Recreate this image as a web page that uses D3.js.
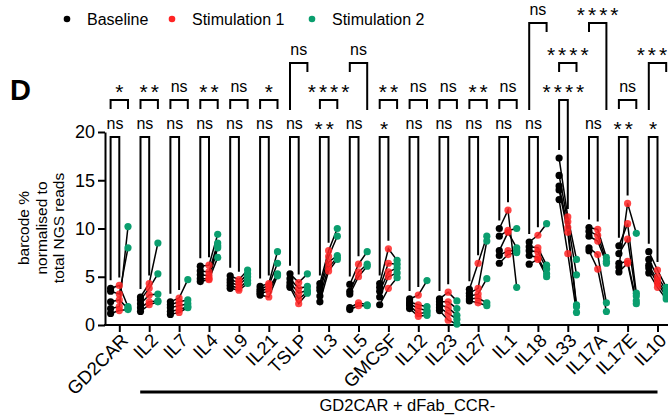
<!DOCTYPE html>
<meta charset="utf-8">
<html>
  <head>
    <title>barcode reads</title>
    <style>
      body { margin: 0; background: #fff; }
      text { font-family: "Liberation Sans", Arial, sans-serif; fill: #000; }
    </style>
  </head>
  <body>
  <script src="https://cdn.jsdelivr.net/npm/d3@7"></script>
  <script>

  // categories on the x axis
  var categories = ["GD2CAR","IL2","IL7","IL4","IL9","IL21","TSLP","IL3","IL5","GMCSF",
                    "IL12","IL23","IL27","IL1","IL18","IL33","IL17A","IL17E","IL10"];
  var groups = ["Baseline", "Stimulation 1", "Stimulation 2"];
  var groupColors = ["#000000", "#ff2424", "#0a9e6e"];

  // one row per category, one value per donor (same donor index across groups)
  var baseline = [
    [3.8,3.5,2.4,1.7,1.2], [2.9,2.6,2.2,1.8,1.4], [2.4,2.1,1.8,1.4,1.1], [6.1,5.6,5.2,4.8,4.5],
    [5.1,4.7,4.4,4.1,3.8], [4.0,3.7,3.5,3.3,3.1], [5.3,4.8,4.4,4.1,3.9], [4.3,3.9,3.6,3.0,2.4],
    [4.2,3.5,3.2,1.8,1.6], [4.3,3.9,3.5,2.9,2.1], [2.7,2.4,2.2,2.0,1.7], [2.7,2.4,2.1,1.8,1.5],
    [3.7,3.3,3.0,2.7,2.5], [10.0,9.2,7.7,7.2,6.4], [8.6,8.1,7.7,7.2,6.3], [17.3,15.5,14.4,14.0,13.0],
    [10.1,9.7,9.2,8.0,7.7], [8.2,7.4,6.4,6.0,5.5], [7.6,6.8,6.2,5.9,5.4]
  ];
  var stim1 = [
    [4.1,3.2,2.6,1.9,1.5], [4.3,3.8,3.1,2.4,2.1], [2.8,2.4,2.0,1.6,1.3], [6.2,5.5,5.1,4.8,4.7],
    [4.7,4.4,4.1,3.8,3.6], [4.3,4.1,3.8,3.5,2.9], [4.4,3.8,3.3,2.7,2.2], [7.7,7.1,6.5,6.0,5.6],
    [6.3,5.5,5.0,2.3,2.0], [7.9,6.4,5.5,5.0,3.8], [3.1,2.1,1.7,1.2,0.9], [3.4,2.4,1.8,1.2,0.5],
    [6.4,3.8,3.2,2.8,2.3], [11.9,9.8,9.6,7.7,7.3], [9.3,8.0,7.6,7.0,6.8], [11.2,10.7,10.1,9.6,7.4],
    [9.9,9.3,8.7,7.3,5.8], [10.5,8.9,6.6,12.6,6.4], [5.7,5.0,4.6,4.3,3.9]
  ];
  var stim2 = [
    [1.9,8.0,1.7,10.2,1.6], [8.5,5.3,3.2,2.5,2.4], [4.7,2.6,2.2,1.9,1.8], [9.4,8.5,8.2,8.0,7.0],
    [5.7,5.3,5.0,4.6,4.3], [7.6,6.4,5.3,5.2,5.1], [5.3,4.0,3.6,3.4,3.3], [10.0,9.2,7.2,7.0,6.8],
    [7.6,6.3,6.1,2.1,2.0], [6.7,6.3,5.9,5.4,4.9], [4.6,1.9,1.5,1.3,1.0], [2.5,1.7,1.0,0.6,0.1],
    [9.2,8.7,4.8,2.3,2.0], [3.9,10.0,8.0,7.7,7.5], [10.5,6.2,5.8,5.3,5.0], [6.8,5.2,2.1,1.9,1.3],
    [7.0,6.6,6.4,2.3,1.4], [3.3,3.0,2.5,9.5,2.2], [3.9,3.6,3.3,3.0,2.7]
  ];

  // significance: baseline vs stimulation 1, baseline vs stimulation 2
  var sig1 = ["ns","ns","ns","ns","ns","ns","ns","**","ns","*","ns","ns","ns","ns","ns","****","ns","**","*"];
  var sig1Level = [0,0,0,0,0,0,0,0,0,0,0,0,0,0,0,1,0,0,0];
  var sig2 = ["*","**","ns","**","ns","*","ns","****","ns","**","ns","ns","**","ns","ns","****","****","ns","****"];
  var sig2Level = [1,1,1,1,1,1,2,1,2,1,1,1,1,1,3,2,3,1,2];
  var sig2Long = ["","","","","","","L","","R","","","","","","L","","R","","L"];

  var yTicks = [0, 5, 10, 15, 20];

  var width = 668, height = 416;
  var svg = d3.select("body").append("svg")
      .attr("width", width)
      .attr("height", height);

  var y = d3.scaleLinear().domain([0, 20]).range([325, 132]);
  var x = d3.scalePoint().domain(categories).range([119.3, 657.5]);
  var off = d3.scalePoint().domain(groups).range([-8.7, 8.7]);

  var levelTop = [137, 100, 63, 23];

  // panel letter
  svg.append("text").attr("x", 10).attr("y", 100)
      .style("font-size", "29px").style("font-weight", "bold").text("D");

  // legend
  var leg = svg.append("g").selectAll("g").data(groups).enter().append("g");
  var legX = [67, 172, 312];
  leg.append("circle").attr("cx", function(d, i){ return legX[i]; }).attr("cy", 19).attr("r", 3.3)
      .style("fill", function(d, i){ return groupColors[i]; });
  leg.append("text").attr("x", function(d, i){ return legX[i] + 20; }).attr("y", 25)
      .style("font-size", "16px").text(function(d){ return d; });

  // y axis
  var yAxis = svg.append("g").attr("transform", "translate(105,0)")
      .call(d3.axisLeft(y).tickValues(yTicks).tickSize(7).tickSizeOuter(0).tickPadding(3));
  yAxis.selectAll("path, line").style("stroke", "#000").style("stroke-width", 2);
  yAxis.selectAll("text").style("font-size", "18px").style("font-family", "Liberation Sans, Arial, sans-serif");

  // x axis
  var xAxis = svg.append("g").attr("transform", "translate(0,325)")
      .call(d3.axisBottom(x).tickSize(7).tickSizeOuter(0));
  xAxis.select(".domain").remove();
  xAxis.append("line").attr("x1", 104).attr("x2", width).attr("y1", 0).attr("y2", 0)
      .style("stroke", "#000").style("stroke-width", 2);
  xAxis.selectAll("line").style("stroke", "#000").style("stroke-width", 2);
  xAxis.selectAll(".tick text")
      .attr("transform", "rotate(-45)")
      .attr("text-anchor", "end")
      .attr("x", -5).attr("y", 12).attr("dy", "0.35em")
      .style("font-size", "18.5px").style("font-family", "Liberation Sans, Arial, sans-serif");

  // y label
  var ylab = ["barcode %", "normalised to", "total NGS reads"];
  svg.append("g").selectAll("text").data(ylab).enter().append("text")
      .attr("transform", function(d, i){ return "translate(" + (29 + i * 17.5) + ",228) rotate(-90)"; })
      .attr("text-anchor", "middle")
      .style("font-size", "15.5px")
      .text(function(d){ return d; });

  // group bar under axis
  svg.append("line").attr("x1", x("IL2") - 9).attr("x2", x("IL10")).attr("y1", 392).attr("y2", 392)
      .style("stroke", "#000").style("stroke-width", 3);
  svg.append("text").attr("x", (x("IL2") + x("IL10")) / 2 + 4).attr("y", 411)
      .attr("text-anchor", "middle").style("font-size", "16.5px").text("GD2CAR + dFab_CCR-");

  // paired lines and points
  var series = [baseline, stim1, stim2];
  var plot = svg.append("g");
  categories.forEach(function(c, i){
    var donors = d3.range(baseline[i].length).map(function(j){
      return groups.map(function(g, k){ return [x(c) + off(g), y(series[k][i][j])]; });
    });
    plot.selectAll(null).data(donors).enter().append("path")
        .attr("d", d3.line())
        .style("fill", "none").style("stroke", "#000").style("stroke-width", 1.5);
  });
  groups.forEach(function(g, k){
    categories.forEach(function(c, i){
      plot.selectAll(null).data(series[k][i]).enter().append("circle")
          .attr("cx", x(c) + off(g))
          .attr("cy", function(d){ return y(d); })
          .attr("r", 3.6)
          .style("fill", groupColors[k])
          .style("fill-opacity", k == 1 ? 0.85 : 1);
    });
  });

  // significance brackets
  var br = svg.append("g").style("fill", "none").style("stroke", "#000").style("stroke-width", 2);
  var lab = svg.append("g");

  function sigText(s, cx, base){
    var t = lab.append("text").attr("x", cx).attr("text-anchor", "middle").text(s);
    if (s == "ns") t.attr("y", base).style("font-size", "16px");
    else t.attr("y", base + 7).attr("dx", "1.5px").style("font-size", "21px").style("letter-spacing", "3px");
  }

  categories.forEach(function(c, i){
    // baseline vs stim 1
    var x1 = x(c) + off(groups[0]), x2 = x(c) + off(groups[1]);
    var top = levelTop[sig1Level[i]];
    var e1 = y(d3.max(baseline[i])) - 8, e2 = y(d3.max(stim1[i])) - 8;
    br.append("path").attr("d", "M" + x1 + "," + e1 + "V" + top + "H" + x2 + "V" + e2);
    sigText(sig1[i], (x1 + x2) / 2, top - 8);

    // baseline vs stim 2
    var x3 = x(c) + off(groups[2]);
    var t2 = levelTop[sig2Level[i]];
    var longEnd = levelTop[1] + 10, shortEnd = t2 + 9;
    var l1 = sig2Long[i] == "L" ? longEnd : shortEnd;
    var l2 = sig2Long[i] == "R" ? longEnd : shortEnd;
    br.append("path").attr("d", "M" + x1 + "," + l1 + "V" + t2 + "H" + x3 + "V" + l2);
    sigText(sig2[i], (x1 + x3) / 2, t2 - 8);
  });

  </script>
  </body>
</html>
